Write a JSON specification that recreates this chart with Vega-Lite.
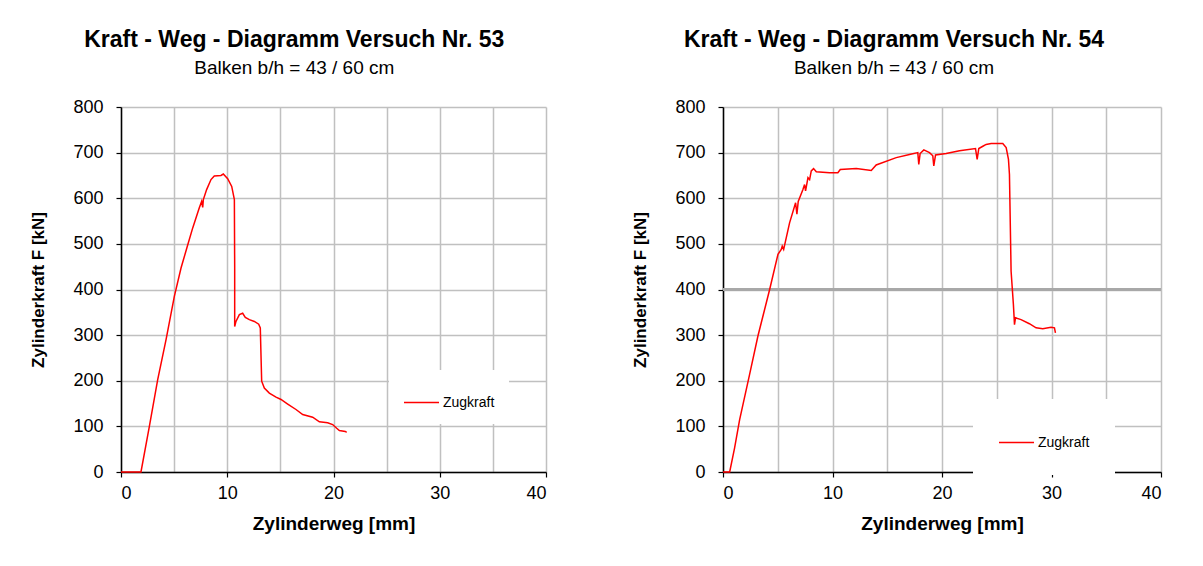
{
  "$schema": "https://vega.github.io/schema/vega-lite/v6.json",
  "background": "white",
  "padding": {"left": 29, "top": 29, "right": 5, "bottom": 5},
  "config": {
    "font": "Liberation Sans",
    "view": {"stroke": null},
    "concat": {"spacing": 84},
    "axis": {
      "labelFont": "Liberation Sans",
      "titleFont": "Liberation Sans",
      "labelColor": "black",
      "titleColor": "black",
      "domainColor": "black",
      "domainWidth": 1.5,
      "tickColor": "black",
      "tickWidth": 1.2,
      "tickSize": 5,
      "gridColor": "#c0c0c0",
      "gridWidth": 1.5,
      "gridOpacity": 1,
      "labelFontSize": 18,
      "titleFontSize": 18,
      "titleFontWeight": "bold"
    },
    "title": {"color": "black", "subtitleColor": "black", "font": "Liberation Sans", "subtitleFont": "Liberation Sans"}
  },
  "datasets": {
    "v53": [
      {"weg": 0, "kraft": 0, "serie": "Zugkraft"},
      {"weg": 1.88, "kraft": 0, "serie": "Zugkraft"},
      {"weg": 2.67, "kraft": 100, "serie": "Zugkraft"},
      {"weg": 3.45, "kraft": 202, "serie": "Zugkraft"},
      {"weg": 4.24, "kraft": 290, "serie": "Zugkraft"},
      {"weg": 5.02, "kraft": 385, "serie": "Zugkraft"},
      {"weg": 5.65, "kraft": 447, "serie": "Zugkraft"},
      {"weg": 6.27, "kraft": 497, "serie": "Zugkraft"},
      {"weg": 6.75, "kraft": 535, "serie": "Zugkraft"},
      {"weg": 7.37, "kraft": 579, "serie": "Zugkraft"},
      {"weg": 7.59, "kraft": 593, "serie": "Zugkraft"},
      {"weg": 7.69, "kraft": 580, "serie": "Zugkraft"},
      {"weg": 7.75, "kraft": 597, "serie": "Zugkraft"},
      {"weg": 8.06, "kraft": 619, "serie": "Zugkraft"},
      {"weg": 8.47, "kraft": 641, "serie": "Zugkraft"},
      {"weg": 8.78, "kraft": 649, "serie": "Zugkraft"},
      {"weg": 9.41, "kraft": 650, "serie": "Zugkraft"},
      {"weg": 9.63, "kraft": 653, "serie": "Zugkraft"},
      {"weg": 10.04, "kraft": 643, "serie": "Zugkraft"},
      {"weg": 10.42, "kraft": 626, "serie": "Zugkraft"},
      {"weg": 10.67, "kraft": 597, "serie": "Zugkraft"},
      {"weg": 10.7, "kraft": 447, "serie": "Zugkraft"},
      {"weg": 10.7, "kraft": 319, "serie": "Zugkraft"},
      {"weg": 10.82, "kraft": 330, "serie": "Zugkraft"},
      {"weg": 11.14, "kraft": 345, "serie": "Zugkraft"},
      {"weg": 11.45, "kraft": 348, "serie": "Zugkraft"},
      {"weg": 11.7, "kraft": 339, "serie": "Zugkraft"},
      {"weg": 12.08, "kraft": 334, "serie": "Zugkraft"},
      {"weg": 12.55, "kraft": 330, "serie": "Zugkraft"},
      {"weg": 12.96, "kraft": 324, "serie": "Zugkraft"},
      {"weg": 13.11, "kraft": 316, "serie": "Zugkraft"},
      {"weg": 13.24, "kraft": 199, "serie": "Zugkraft"},
      {"weg": 13.49, "kraft": 184, "serie": "Zugkraft"},
      {"weg": 13.96, "kraft": 173, "serie": "Zugkraft"},
      {"weg": 14.59, "kraft": 164, "serie": "Zugkraft"},
      {"weg": 15.06, "kraft": 159, "serie": "Zugkraft"},
      {"weg": 15.69, "kraft": 149, "serie": "Zugkraft"},
      {"weg": 16.47, "kraft": 137, "serie": "Zugkraft"},
      {"weg": 17.1, "kraft": 126, "serie": "Zugkraft"},
      {"weg": 18.04, "kraft": 120, "serie": "Zugkraft"},
      {"weg": 18.67, "kraft": 110, "serie": "Zugkraft"},
      {"weg": 19.45, "kraft": 108, "serie": "Zugkraft"},
      {"weg": 19.92, "kraft": 104, "serie": "Zugkraft"},
      {"weg": 20.3, "kraft": 96, "serie": "Zugkraft"},
      {"weg": 20.55, "kraft": 91, "serie": "Zugkraft"},
      {"weg": 21.11, "kraft": 89, "serie": "Zugkraft"},
      {"weg": 21.24, "kraft": 87, "serie": "Zugkraft"}
    ],
    "v54": [
      {"weg": 0, "kraft": 0, "serie": "Zugkraft"},
      {"weg": 0.61, "kraft": 0, "serie": "Zugkraft"},
      {"weg": 1.06, "kraft": 53, "serie": "Zugkraft"},
      {"weg": 1.52, "kraft": 115, "serie": "Zugkraft"},
      {"weg": 2.43, "kraft": 214, "serie": "Zugkraft"},
      {"weg": 3.19, "kraft": 298, "serie": "Zugkraft"},
      {"weg": 4.26, "kraft": 400, "serie": "Zugkraft"},
      {"weg": 5.02, "kraft": 477, "serie": "Zugkraft"},
      {"weg": 5.32, "kraft": 488, "serie": "Zugkraft"},
      {"weg": 5.41, "kraft": 495, "serie": "Zugkraft"},
      {"weg": 5.54, "kraft": 488, "serie": "Zugkraft"},
      {"weg": 6.08, "kraft": 546, "serie": "Zugkraft"},
      {"weg": 6.63, "kraft": 590, "serie": "Zugkraft"},
      {"weg": 6.75, "kraft": 565, "serie": "Zugkraft"},
      {"weg": 6.87, "kraft": 593, "serie": "Zugkraft"},
      {"weg": 7.3, "kraft": 619, "serie": "Zugkraft"},
      {"weg": 7.45, "kraft": 630, "serie": "Zugkraft"},
      {"weg": 7.54, "kraft": 616, "serie": "Zugkraft"},
      {"weg": 7.76, "kraft": 645, "serie": "Zugkraft"},
      {"weg": 7.91, "kraft": 641, "serie": "Zugkraft"},
      {"weg": 8.06, "kraft": 660, "serie": "Zugkraft"},
      {"weg": 8.27, "kraft": 665, "serie": "Zugkraft"},
      {"weg": 8.52, "kraft": 658, "serie": "Zugkraft"},
      {"weg": 9.73, "kraft": 656, "serie": "Zugkraft"},
      {"weg": 10.49, "kraft": 656, "serie": "Zugkraft"},
      {"weg": 10.71, "kraft": 663, "serie": "Zugkraft"},
      {"weg": 12.17, "kraft": 665, "serie": "Zugkraft"},
      {"weg": 13.54, "kraft": 661, "serie": "Zugkraft"},
      {"weg": 13.99, "kraft": 673, "serie": "Zugkraft"},
      {"weg": 15.82, "kraft": 689, "serie": "Zugkraft"},
      {"weg": 17.03, "kraft": 696, "serie": "Zugkraft"},
      {"weg": 17.79, "kraft": 700, "serie": "Zugkraft"},
      {"weg": 17.88, "kraft": 674, "serie": "Zugkraft"},
      {"weg": 18.0, "kraft": 698, "serie": "Zugkraft"},
      {"weg": 18.34, "kraft": 706, "serie": "Zugkraft"},
      {"weg": 18.86, "kraft": 700, "serie": "Zugkraft"},
      {"weg": 19.16, "kraft": 693, "serie": "Zugkraft"},
      {"weg": 19.25, "kraft": 671, "serie": "Zugkraft"},
      {"weg": 19.41, "kraft": 695, "serie": "Zugkraft"},
      {"weg": 20.38, "kraft": 698, "serie": "Zugkraft"},
      {"weg": 21.6, "kraft": 704, "serie": "Zugkraft"},
      {"weg": 23.06, "kraft": 709, "serie": "Zugkraft"},
      {"weg": 23.21, "kraft": 685, "serie": "Zugkraft"},
      {"weg": 23.36, "kraft": 709, "serie": "Zugkraft"},
      {"weg": 23.73, "kraft": 714, "serie": "Zugkraft"},
      {"weg": 24.03, "kraft": 718, "serie": "Zugkraft"},
      {"weg": 24.49, "kraft": 720, "serie": "Zugkraft"},
      {"weg": 24.94, "kraft": 720, "serie": "Zugkraft"},
      {"weg": 25.55, "kraft": 720, "serie": "Zugkraft"},
      {"weg": 25.86, "kraft": 711, "serie": "Zugkraft"},
      {"weg": 26.07, "kraft": 685, "serie": "Zugkraft"},
      {"weg": 26.16, "kraft": 652, "serie": "Zugkraft"},
      {"weg": 26.31, "kraft": 440, "serie": "Zugkraft"},
      {"weg": 26.52, "kraft": 367, "serie": "Zugkraft"},
      {"weg": 26.62, "kraft": 323, "serie": "Zugkraft"},
      {"weg": 26.71, "kraft": 338, "serie": "Zugkraft"},
      {"weg": 27.22, "kraft": 334, "serie": "Zugkraft"},
      {"weg": 27.98, "kraft": 325, "serie": "Zugkraft"},
      {"weg": 28.59, "kraft": 316, "serie": "Zugkraft"},
      {"weg": 29.2, "kraft": 314, "serie": "Zugkraft"},
      {"weg": 29.96, "kraft": 317, "serie": "Zugkraft"},
      {"weg": 30.27, "kraft": 316, "serie": "Zugkraft"},
      {"weg": 30.36, "kraft": 305, "serie": "Zugkraft"}
    ]
  },
  "hconcat": [
    {
      "width": 425,
      "height": 365,
      "title": {
        "text": "Kraft - Weg - Diagramm Versuch Nr.  53",
        "subtitle": "Balken b/h = 43 / 60 cm",
        "frame": "bounds",
        "anchor": "middle",
        "dx": 6,
        "fontSize": 23,
        "fontWeight": "bold",
        "subtitleFontSize": 19,
        "subtitlePadding": 7,
        "offset": 20
      },
      "data": {"name": "v53"},
      "layer": [
        {
          "mark": {"type": "line", "opacity": 0},
          "encoding": {
            "x": {"field": "weg", "type": "quantitative", "scale": {"domain": [0, 40], "nice": false, "zero": false},
              "axis": {"orient": "bottom", "values": [0, 5, 10, 15, 20, 25, 30, 35, 40], "grid": true, "labels": false, "ticks": false, "domain": false, "title": null}},
            "y": {"field": "kraft", "type": "quantitative", "scale": {"domain": [0, 800], "nice": false},
              "axis": {"orient": "left", "values": [0, 100, 200, 300, 400, 500, 600, 700, 800], "grid": true, "labels": false, "ticks": false, "domain": false, "title": null}}
          }
        },
        {
          "mark": {"type": "line", "strokeWidth": 1.5},
          "encoding": {
            "x": {"field": "weg", "type": "quantitative", "scale": {"domain": [0, 40], "nice": false, "zero": false},
              "axis": {"orient": "bottom", "values": [0, 10, 20, 30, 40], "grid": false, "labelPadding": 7, "title": "Zylinderweg [mm]", "titleFontSize": 19, "titlePadding": 12}},
            "y": {"field": "kraft", "type": "quantitative", "scale": {"domain": [0, 800], "nice": false},
              "axis": {"orient": "left", "values": [0, 100, 200, 300, 400, 500, 600, 700, 800], "grid": false, "labelPadding": 13, "title": "Zylinderkraft F [kN]", "titleFontSize": 17, "titlePadding": 25}},
            "color": {"field": "serie", "type": "nominal", "scale": {"domain": ["Zugkraft"], "range": ["#ff0000"]},
              "legend": {"orient": "none", "legendX": 268, "legendY": 263, "title": null, "symbolType": "stroke", "symbolSize": 1225, "symbolStrokeWidth": 1.5, "labelFontSize": 14, "labelOffset": 3, "labelColor": "black", "fillColor": "white", "padding": 14}},
            "order": {"value": null}
          }
        }
      ],
      "resolve": {"axis": {"x": "independent", "y": "independent"}}
    },
    {
      "width": 438,
      "height": 365,
      "title": {
        "text": "Kraft - Weg - Diagramm Versuch Nr.  54",
        "subtitle": "Balken b/h = 43 / 60 cm",
        "frame": "bounds",
        "anchor": "middle",
        "dx": -3,
        "fontSize": 23,
        "fontWeight": "bold",
        "subtitleFontSize": 19,
        "subtitlePadding": 7,
        "offset": 20
      },
      "data": {"name": "v54"},
      "layer": [
        {
          "mark": {"type": "line", "opacity": 0},
          "encoding": {
            "x": {"field": "weg", "type": "quantitative", "scale": {"domain": [0, 40], "nice": false, "zero": false},
              "axis": {"orient": "bottom", "values": [0, 5, 10, 15, 20, 25, 30, 35, 40], "grid": true, "labels": false, "ticks": false, "domain": false, "title": null}},
            "y": {"field": "kraft", "type": "quantitative", "scale": {"domain": [0, 800], "nice": false},
              "axis": {"orient": "left", "values": [0, 100, 200, 300, 400, 500, 600, 700, 800], "grid": true, "labels": false, "ticks": false, "domain": false, "title": null}}
          }
        },
        {
          "mark": {"type": "rule", "color": "#a8a8a8", "strokeWidth": 2},
          "encoding": {"y": {"datum": 400, "type": "quantitative", "axis": null}}
        },
        {
          "mark": {"type": "line", "strokeWidth": 1.5},
          "encoding": {
            "x": {"field": "weg", "type": "quantitative", "scale": {"domain": [0, 40], "nice": false, "zero": false},
              "axis": {"orient": "bottom", "values": [0, 10, 20, 30, 40], "grid": false, "labelPadding": 7, "title": "Zylinderweg [mm]", "titleFontSize": 19, "titlePadding": 12}},
            "y": {"field": "kraft", "type": "quantitative", "scale": {"domain": [0, 800], "nice": false},
              "axis": {"orient": "left", "values": [0, 100, 200, 300, 400, 500, 600, 700, 800], "grid": false, "labelPadding": 13, "title": "Zylinderkraft F [kN]", "titleFontSize": 17, "titlePadding": 25}},
            "color": {"field": "serie", "type": "nominal", "scale": {"domain": ["Zugkraft"], "range": ["#ff0000"]},
              "legend": {"orient": "none", "legendX": 250, "legendY": 292, "title": null, "symbolType": "stroke", "symbolSize": 1225, "symbolStrokeWidth": 1.5, "labelFontSize": 14, "labelOffset": 3, "labelColor": "black", "fillColor": "white", "padding": 25}},
            "order": {"value": null}
          }
        }
      ],
      "resolve": {"axis": {"x": "independent", "y": "independent"}}
    }
  ],
  "resolve": {
    "scale": {"color": "independent", "x": "independent", "y": "independent"},
    "legend": {"color": "independent"}
  }
}
